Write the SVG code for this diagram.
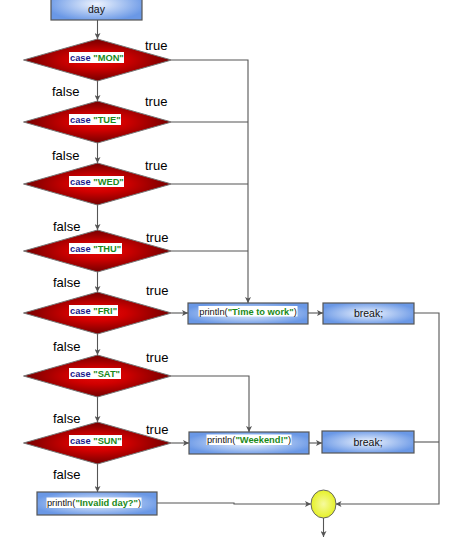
<svg xmlns="http://www.w3.org/2000/svg" width="451" height="540" viewBox="0 0 451 540">
<defs>
<radialGradient id="gBox" cx="50%" cy="50%" r="55%">
<stop offset="0" stop-color="#eef4fe"/>
<stop offset="1" stop-color="#6a98e6"/>
</radialGradient>
<radialGradient id="gDia" cx="50%" cy="50%" r="55%">
<stop offset="0" stop-color="#e80a0a"/>
<stop offset="0.35" stop-color="#d00000"/>
<stop offset="1" stop-color="#650000"/>
</radialGradient>
<radialGradient id="gEnd" cx="50%" cy="50%" r="55%">
<stop offset="0" stop-color="#f6fa9e"/>
<stop offset="1" stop-color="#e4f01c"/>
</radialGradient>
<marker id="arr" markerUnits="userSpaceOnUse" markerWidth="7" markerHeight="6" refX="6" refY="3" orient="auto">
<path d="M0,0 L6,3 L0,6 L1.5,3 Z" fill="#555"/>
</marker>
</defs>
<style>
.box{fill:url(#gBox);stroke:#555;stroke-width:1.2}
.dia{fill:url(#gDia);stroke:#777;stroke-width:1}
.end{fill:url(#gEnd);stroke:#666;stroke-width:1}
.ln{fill:none;stroke:#555;stroke-width:1.1}
.ar{marker-end:url(#arr)}
.t{font-family:"Liberation Sans",Arial,sans-serif;fill:#111}
.lbl{font-family:"Liberation Sans",Arial,sans-serif;font-size:13px;fill:#000}
.code{font-family:"Liberation Sans",Arial,sans-serif;font-size:9.3px}
.kw{fill:#1a1a8c;font-weight:bold}
.str{fill:#1a8a1a;font-weight:bold}
.bg{fill:#fff}
</style>

<g id="connectors">
<path class="ln ar" d="M97.5 20 V39"/>
<path class="ln ar" d="M97.5 81 V101"/>
<path class="ln ar" d="M97.5 143 V163"/>
<path class="ln ar" d="M97.5 205 V230"/>
<path class="ln ar" d="M97.5 272 V292"/>
<path class="ln ar" d="M97.5 334 V355"/>
<path class="ln ar" d="M97.5 397 V422"/>
<path class="ln ar" d="M97.5 464 V492"/>
<path class="ln ar" d="M171.5 60 H248 V303"/>
<path class="ln" d="M171.5 122 H248"/>
<path class="ln" d="M171.5 184 H248"/>
<path class="ln" d="M171.5 251 H248"/>
<path class="ln ar" d="M171.5 313 H188"/>
<path class="ln ar" d="M171.5 376 H249 V432"/>
<path class="ln ar" d="M171.5 443 H189"/>
<path class="ln ar" d="M308 313 H323"/>
<path class="ln ar" d="M309 443 H322"/>
<path class="ln ar" d="M414 313 H439 V504 H335.5"/>
<path class="ln" d="M414 442 H439"/>
<path class="ln ar" d="M157 503 H234 V504 H311"/>
<path class="ln ar" d="M323.5 518 V537"/>
<text class="lbl" x="145" y="50">true</text>
<text class="lbl" x="145" y="106">true</text>
<text class="lbl" x="145" y="170">true</text>
<text class="lbl" x="146" y="242">true</text>
<text class="lbl" x="146" y="295">true</text>
<text class="lbl" x="146" y="362">true</text>
<text class="lbl" x="146" y="434">true</text>
<text class="lbl" x="52" y="96">false</text>
<text class="lbl" x="52" y="160">false</text>
<text class="lbl" x="53" y="231">false</text>
<text class="lbl" x="53" y="287">false</text>
<text class="lbl" x="53" y="351">false</text>
<text class="lbl" x="53" y="423">false</text>
<text class="lbl" x="53" y="479">false</text>
</g>

<g id="day">
<rect class="box" x="51" y="-12" width="91" height="32"/>
<text class="t" x="96.5" y="13" font-size="10.5" text-anchor="middle">day</text>
</g>

<g id="mon">
<polygon class="dia" points="23.5,60 97.5,39 171.5,60 97.5,81"/>
<rect class="bg" x="69" y="52" width="55" height="11"/>
<text class="code" x="70" y="61"><tspan class="kw">case </tspan><tspan class="str">"MON"</tspan></text>
</g>
<g id="tue">
<polygon class="dia" points="23.5,122 97.5,101 171.5,122 97.5,143"/>
<rect class="bg" x="69" y="114" width="52" height="11"/>
<text class="code" x="70" y="123"><tspan class="kw">case </tspan><tspan class="str">"TUE"</tspan></text>
</g>
<g id="wed">
<polygon class="dia" points="23.5,184 97.5,163 171.5,184 97.5,205"/>
<rect class="bg" x="69" y="176" width="55" height="11"/>
<text class="code" x="70" y="185"><tspan class="kw">case </tspan><tspan class="str">"WED"</tspan></text>
</g>
<g id="thu">
<polygon class="dia" points="23.5,251 97.5,230 171.5,251 97.5,272"/>
<rect class="bg" x="69" y="243" width="53" height="11"/>
<text class="code" x="70" y="252"><tspan class="kw">case </tspan><tspan class="str">"THU"</tspan></text>
</g>
<g id="fri">
<polygon class="dia" points="23.5,313 97.5,292 171.5,313 97.5,334"/>
<rect class="bg" x="69" y="305" width="49" height="11"/>
<text class="code" x="70" y="314"><tspan class="kw">case </tspan><tspan class="str">"FRI"</tspan></text>
</g>
<g id="sat">
<polygon class="dia" points="23.5,376 97.5,355 171.5,376 97.5,397"/>
<rect class="bg" x="69" y="368" width="52" height="11"/>
<text class="code" x="70" y="377"><tspan class="kw">case </tspan><tspan class="str">"SAT"</tspan></text>
</g>
<g id="sun">
<polygon class="dia" points="23.5,443 97.5,422 171.5,443 97.5,464"/>
<rect class="bg" x="69" y="435" width="53" height="11"/>
<text class="code" x="70" y="444"><tspan class="kw">case </tspan><tspan class="str">"SUN"</tspan></text>
</g>

<g id="print-work">
<rect class="box" x="188" y="303" width="120" height="21"/>
<rect class="bg" x="198.5" y="306" width="99" height="10.5"/>
<text class="code" x="248" y="314.5" text-anchor="middle" fill="#111">println(<tspan class="str">"Time to work"</tspan>)</text>
</g>
<g id="break1">
<rect class="box" x="323" y="303" width="91" height="21"/>
<text class="t" x="368.5" y="317" font-size="10.5" text-anchor="middle">break;</text>
</g>
<g id="print-weekend">
<rect class="box" x="189" y="432" width="120" height="22"/>
<rect class="bg" x="206.5" y="434.5" width="85" height="10.5"/>
<text class="code" x="249" y="443" text-anchor="middle" fill="#111">println(<tspan class="str">"Weekend!"</tspan>)</text>
</g>
<g id="break2">
<rect class="box" x="322" y="431" width="92" height="22"/>
<text class="t" x="368" y="445.5" font-size="10.5" text-anchor="middle">break;</text>
</g>
<g id="print-invalid">
<rect class="box" x="37" y="492" width="120" height="23"/>
<rect class="bg" x="46.5" y="497.5" width="95" height="10.5"/>
<text class="code" x="94" y="506" text-anchor="middle" fill="#111">println(<tspan class="str">"Invalid day?"</tspan>)</text>
</g>
<g id="end">
<ellipse class="end" cx="323.5" cy="504" rx="12.5" ry="14"/>
</g>
</svg>
